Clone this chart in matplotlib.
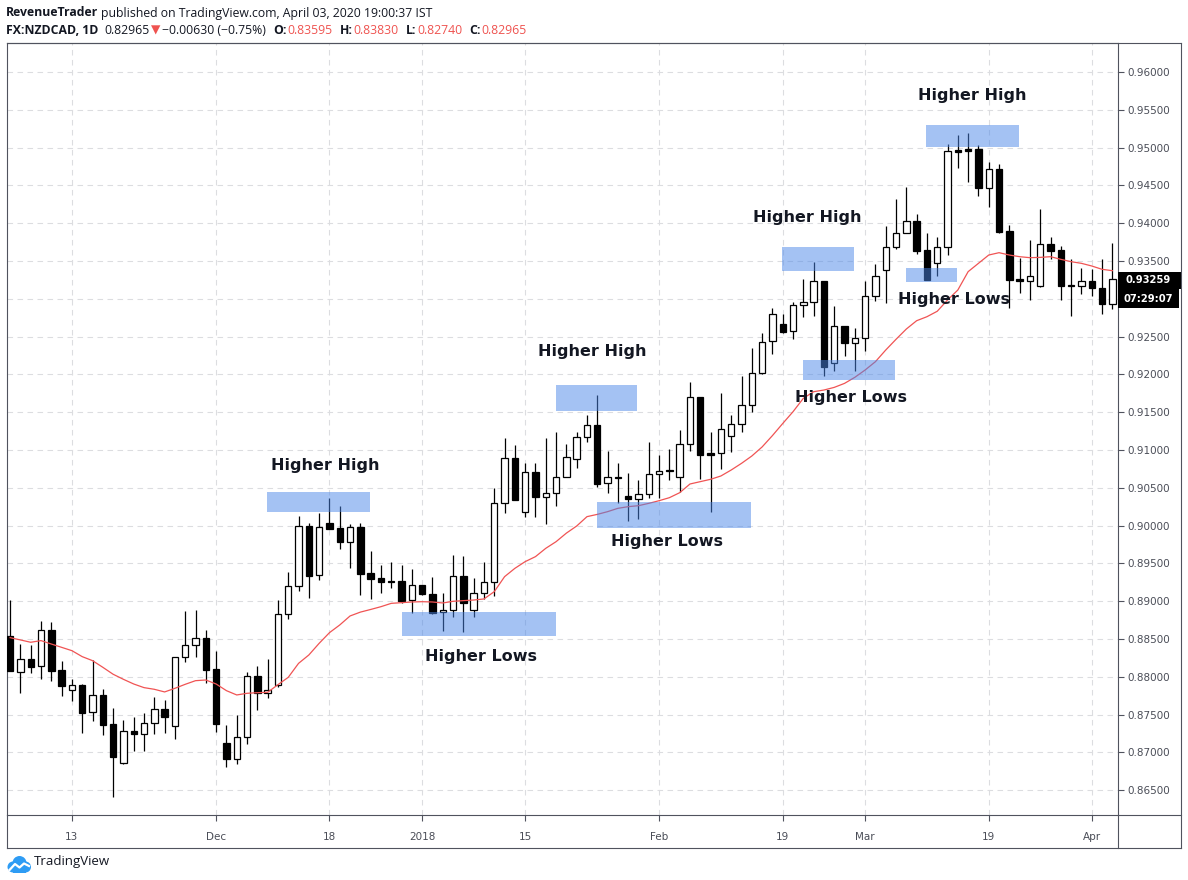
import matplotlib.pyplot as plt
from matplotlib.patches import Rectangle, Circle
from matplotlib.lines import Line2D
import numpy as np

# daily candles, NZDCAD (Nov 2017 - Apr 2018)
opens = [0.88539, 0.88059, 0.88231, 0.88138, 0.88614, 0.88090, 0.87821, 0.87887, 0.87530, 0.87754,
         0.87371, 0.86855, 0.87278, 0.87239, 0.87384, 0.87574, 0.87344, 0.88257, 0.88416, 0.88508,
         0.88103, 0.87119, 0.86907, 0.87198, 0.88006, 0.87789, 0.87895, 0.88826, 0.89196, 0.89990,
         0.89342, 0.90034, 0.89964, 0.89778, 0.89977, 0.89368, 0.89302, 0.89262, 0.89262, 0.89011,
         0.89209, 0.89095, 0.88852, 0.88879, 0.89333, 0.88879, 0.89104, 0.89249, 0.90294, 0.90889,
         0.90180, 0.90713, 0.90374, 0.90427, 0.90647, 0.90876, 0.91167, 0.91326, 0.90559, 0.90638,
         0.90391, 0.90347, 0.90413, 0.90678, 0.90735, 0.90638, 0.91079, 0.91701, 0.90956, 0.90956,
         0.91180, 0.91340, 0.91591, 0.92014, 0.92437, 0.92662, 0.92574, 0.92913, 0.92953, 0.93231,
         0.92146, 0.92640, 0.92419, 0.92477, 0.93032, 0.93376, 0.93681, 0.93866, 0.94025, 0.93645,
         0.93469, 0.93681, 0.94964, 0.94977, 0.94981, 0.94470, 0.94717, 0.93892, 0.93257, 0.93239,
         0.93173, 0.93720, 0.93645, 0.93182, 0.93164, 0.93231, 0.93138, 0.92926]
highs = [0.89016, 0.88433, 0.88420, 0.88738, 0.88720, 0.88209, 0.87966, 0.87900, 0.88222, 0.87838,
         0.87587, 0.87428, 0.87468, 0.87521, 0.87732, 0.87693, 0.88257, 0.88870, 0.88883, 0.88619,
         0.88341, 0.87362, 0.87494, 0.88063, 0.88142, 0.88235, 0.89015, 0.89386, 0.90127, 0.90030,
         0.90171, 0.90369, 0.90259, 0.90016, 0.90030, 0.89664, 0.89478, 0.89518, 0.89478, 0.89421,
         0.89218, 0.89324, 0.89104, 0.89611, 0.89598, 0.89306, 0.89518, 0.90501, 0.91159, 0.91066,
         0.90832, 0.90823, 0.91154, 0.91242, 0.91079, 0.91238, 0.91463, 0.91727, 0.90987, 0.90823,
         0.90691, 0.90603, 0.91106, 0.90934, 0.91017, 0.91260, 0.91899, 0.91701, 0.91242, 0.91749,
         0.91463, 0.91979, 0.92344, 0.92543, 0.92874, 0.92800, 0.92953, 0.93262, 0.93491, 0.93231,
         0.92904, 0.92640, 0.92609, 0.93235, 0.93455, 0.93963, 0.94316, 0.94483, 0.94117, 0.93866,
         0.93813, 0.95043, 0.95167, 0.95193, 0.95030, 0.94809, 0.94783, 0.93976, 0.93535, 0.93777,
         0.94183, 0.93813, 0.93698, 0.93522, 0.93407, 0.93394, 0.93526, 0.93733]
lows = [0.88070, 0.87790, 0.88054, 0.87975, 0.87948, 0.87746, 0.87684, 0.87261, 0.87419, 0.87234,
        0.86414, 0.86842, 0.87022, 0.87022, 0.87247, 0.87261, 0.87172, 0.88200, 0.88266, 0.87922,
        0.87274, 0.86810, 0.86850, 0.87115, 0.87565, 0.87723, 0.87869, 0.88760, 0.89139, 0.89037,
        0.89280, 0.89950, 0.89695, 0.89443, 0.89086, 0.89024, 0.89104, 0.89178, 0.88971, 0.88839,
        0.89077, 0.88826, 0.88610, 0.88795, 0.88596, 0.88786, 0.89029, 0.89068, 0.90162, 0.90334,
        0.90109, 0.90118, 0.90016, 0.90259, 0.90640, 0.90766, 0.91110, 0.90506, 0.90435, 0.90294,
        0.90065, 0.90091, 0.90369, 0.90369, 0.90600, 0.90448, 0.90986, 0.90616, 0.90184, 0.90748,
        0.90978, 0.91242, 0.91498, 0.92005, 0.92265, 0.92543, 0.92463, 0.92755, 0.92772, 0.91983,
        0.92045, 0.92243, 0.92045, 0.92314, 0.92971, 0.92948, 0.93659, 0.93866, 0.93588, 0.93248,
        0.93306, 0.93579, 0.94734, 0.94545, 0.94364, 0.94219, 0.93866, 0.92882, 0.93081, 0.92984,
        0.93160, 0.93522, 0.92984, 0.92772, 0.93063, 0.93041, 0.92794, 0.92869]
closes = [0.88081, 0.88231, 0.88134, 0.88614, 0.88081, 0.87882, 0.87887, 0.87525, 0.87754, 0.87366,
          0.86943, 0.87278, 0.87239, 0.87384, 0.87569, 0.87463, 0.88257, 0.88416, 0.88508, 0.88094,
          0.87379, 0.86907, 0.87198, 0.88006, 0.87789, 0.87820, 0.88826, 0.89196, 0.89990, 0.89337,
          0.89977, 0.89959, 0.89778, 0.89977, 0.89364, 0.89298, 0.89258, 0.89254, 0.89002, 0.89209,
          0.89095, 0.88848, 0.88879, 0.89333, 0.88971, 0.89104, 0.89249, 0.90294, 0.90889, 0.90338,
          0.90713, 0.90374, 0.90427, 0.90647, 0.90903, 0.91167, 0.91326, 0.90554, 0.90638, 0.90625,
          0.90347, 0.90413, 0.90678, 0.90717, 0.90717, 0.91079, 0.91701, 0.90938, 0.90938, 0.91273,
          0.91340, 0.91591, 0.92014, 0.92433, 0.92794, 0.92565, 0.92913, 0.92953, 0.93231, 0.92102,
          0.92640, 0.92419, 0.92477, 0.93032, 0.93297, 0.93681, 0.93866, 0.94025, 0.93636, 0.93248,
          0.93681, 0.94951, 0.94946, 0.94959, 0.94470, 0.94712, 0.93888, 0.93248, 0.93239, 0.93301,
          0.93720, 0.93636, 0.93173, 0.93164, 0.93231, 0.93138, 0.92926, 0.93257]
# moving average line
ma = [0.88517, 0.88487, 0.88456, 0.88478, 0.88433, 0.88389, 0.88345, 0.88266, 0.88213, 0.88125,
      0.88033, 0.87966, 0.87904, 0.87856, 0.87834, 0.87799, 0.87847, 0.87900, 0.87948, 0.87957,
      0.87904, 0.87816, 0.87759, 0.87781, 0.87789, 0.87794, 0.87895, 0.87992, 0.88177, 0.88288,
      0.88442, 0.88583, 0.88685, 0.88804, 0.88855, 0.88890, 0.88927, 0.88971, 0.88980, 0.88989,
      0.88993, 0.88989, 0.88976, 0.88998, 0.89007, 0.89015, 0.89029, 0.89126, 0.89324, 0.89434,
      0.89523, 0.89589, 0.89699, 0.89787, 0.89900, 0.89994, 0.90118, 0.90148, 0.90184, 0.90228,
      0.90250, 0.90263, 0.90294, 0.90329, 0.90369, 0.90435, 0.90550, 0.90581, 0.90612, 0.90656,
      0.90735, 0.90823, 0.90920, 0.91040, 0.91190, 0.91350, 0.91506, 0.91683, 0.91771, 0.91793,
      0.91828, 0.91881, 0.91961, 0.92058, 0.92168, 0.92322, 0.92464, 0.92600, 0.92710, 0.92763,
      0.92835, 0.92984, 0.93116, 0.93359, 0.93469, 0.93579, 0.93610, 0.93579, 0.93557, 0.93544,
      0.93548, 0.93557, 0.93522, 0.93491, 0.93469, 0.93434, 0.93390, 0.93372]

tick_idx = [6, 20, 31, 40, 50, 63, 75, 83, 95, 105]
tick_labels = ['13', 'Dec', '18', '2018', '15', 'Feb', '19', 'Mar', '19', 'Apr']

# highlighted zones: start bar, end bar, low, high
zone_x0 = [24.9, 38.0, 53.0, 57.0, 74.9, 77.0, 87.0, 88.9]
zone_x1 = [34.9, 53.0, 60.9, 71.9, 81.9, 85.9, 91.9, 97.9]
zone_lo = [0.90180, 0.88539, 0.91516, 0.89968, 0.93368, 0.91926, 0.93222, 0.95008]
zone_hi = [0.90444, 0.88857, 0.91860, 0.90312, 0.93685, 0.92190, 0.93407, 0.95299]

note_text = ['Higher High', 'Higher Lows', 'Higher High', 'Higher Lows',
             'Higher High', 'Higher Lows', 'Higher Lows', 'Higher High']
note_x = [30.55, 45.7, 56.5, 63.8, 77.4, 81.6, 91.6, 93.4]
note_y = [0.90801, 0.88262, 0.92309, 0.89783, 0.94082, 0.91688, 0.92997, 0.95683]

last_price = '0.93259'
countdown = '07:29:07'

W, H = 1188, 880


def fx(px):
    return px / W


def fy(py):
    return 1 - py / H


fig = plt.figure(figsize=(W / 100, H / 100), dpi=100)
ax = fig.add_axes([fx(6.5), fy(815), fx(1117.5) - fx(6.5), fy(43) - fy(815)])
ax.set_xlim(-0.35, 107.5)
ax.set_ylim(0.86171, 0.96384)

frame_col = '#50535e'
grid_col = '#dcdde0'

# candles
for i in range(len(opens)):
    o, h, l, c = opens[i], highs[i], lows[i], closes[i]
    ax.plot([i, i], [l, h], color='black', lw=0.9, zorder=3, solid_capstyle='butt')
    body = max(abs(c - o), 0.00006)
    face = 'white' if c >= o else 'black'
    ax.add_patch(Rectangle((i - 0.31, min(o, c)), 0.62, body, facecolor=face,
                           edgecolor='black', lw=0.9, zorder=4))

ax.plot(range(len(ma)), ma, color='#f05454', lw=0.9, zorder=5)

for x0, x1, lo, hi in zip(zone_x0, zone_x1, zone_lo, zone_hi):
    ax.add_patch(Rectangle((x0, lo), x1 - x0, hi - lo, facecolor='#4a86e8',
                           alpha=0.5, lw=0, zorder=6))

for s, x, y in zip(note_text, note_x, note_y):
    ax.text(x, y, s, ha='center', va='center', fontsize=11.5, fontweight='bold',
            color='#131722', zorder=7)


# price scale labels; the one under the last-price tag is hidden
def price_fmt(v, pos):
    if abs(v - 0.93) < 1e-6:
        return ''
    return '%.5f' % v


ax.set_yticks(np.arange(0.865, 0.96001, 0.005))
ax.yaxis.set_major_formatter(plt.FuncFormatter(price_fmt))
ax.yaxis.tick_right()
ax.set_xticks(tick_idx)
ax.set_xticklabels(tick_labels)
ax.tick_params(axis='y', direction='out', length=4, pad=3, labelsize=7.5,
               labelcolor='#4a4d57', color=frame_col, width=0.8)
ax.tick_params(axis='x', direction='out', length=4, pad=8, labelsize=7.5,
               labelcolor='#4a4d57', color=frame_col, width=0.8)
ax.grid(True, ls=(0, (5, 4)), color=grid_col, lw=0.8, zorder=0)
ax.set_axisbelow(True)
for sp in ax.spines.values():
    sp.set_color(frame_col)
    sp.set_linewidth(0.8)

# outer frame of price scale and time scale
frame_lines = [((6.5, 1181), (43, 43)), ((1181, 1181), (43, 848)), ((6.5, 1181), (848, 848)),
               ((6.5, 6.5), (815, 848)), ((1117.5, 1181), (815, 815)), ((1117.5, 1117.5), (815, 848))]
for xs, ys in frame_lines:
    fig.add_artist(Line2D([fx(xs[0]), fx(xs[1])], [fy(ys[0]), fy(ys[1])],
                          transform=fig.transFigure, color=frame_col, lw=0.8))

# last price / countdown tags
fig.add_artist(Rectangle((fx(1117.5), fy(288.5)), fx(1180.5) - fx(1117.5), 17 / H,
                         transform=fig.transFigure, facecolor='black', lw=0))
fig.add_artist(Rectangle((fx(1117.5), fy(308.5)), fx(1179) - fx(1117.5), 19 / H,
                         transform=fig.transFigure, facecolor='black', lw=0))
fig.text(fx(1148), fy(280), last_price, color='white', fontsize=7.2, fontweight='bold',
         ha='center', va='center')
fig.text(fx(1148), fy(299), countdown, color='white', fontsize=7.2, fontweight='bold',
         ha='center', va='center')

# header
fam = ['Open Sans', 'DejaVu Sans']
rend = fig.canvas.get_renderer()


def text_run(parts, x, y):
    for s, col, wt, gap in parts:
        t = fig.text(fx(x), fy(y), s, color=col, fontweight=wt, fontsize=8.8,
                     family=fam, ha='left', va='center')
        bb = t.get_window_extent(renderer=rend)
        x = bb.x1 + gap


red = '#ef5350'
dark = '#131722'
text_run([('RevenueTrader', dark, 'bold', 3),
          ('published on TradingView.com, April 03, 2020 19:00:37 IST', dark, 'normal', 0)], 6, 13)
text_run([('FX:NZDCAD, 1D', dark, 'bold', 6),
          ('0.82965', dark, 'normal', 1),
          ('\u25bc', red, 'normal', 2),
          ('\u22120.00630 (\u22120.75%)', dark, 'normal', 7),
          ('O:', dark, 'bold', 1), ('0.83595', red, 'normal', 7),
          ('H:', dark, 'bold', 1), ('0.83830', red, 'normal', 7),
          ('L:', dark, 'bold', 1), ('0.82740', red, 'normal', 7),
          ('C:', dark, 'bold', 1), ('0.82965', red, 'normal', 0)], 6, 30)

# TradingView logo
lax = fig.add_axes([fx(7), fy(873), fx(31) - fx(7), 18 / H])
lax.set_xlim(0, 24)
lax.set_ylim(0, 18)
lax.set_aspect('equal')
lax.axis('off')
blue = '#2e9cf4'
for cx, cy, r in [(6, 6, 5.5), (12.5, 10, 7), (18.5, 6, 5.5)]:
    lax.add_patch(Circle((cx, cy), r, color=blue, lw=0))
lax.add_patch(Rectangle((6, 0.5), 12.5, 6, color=blue, lw=0))
lax.plot([2.5, 8, 12.5, 17, 22], [3, 9, 5.5, 9.5, 7], color='white', lw=1.6)
fig.text(fx(34), fy(861), 'TradingView', color=dark, fontsize=9.5, family=fam,
         ha='left', va='center')

fig.savefig('out.png', dpi=100, facecolor='white')
